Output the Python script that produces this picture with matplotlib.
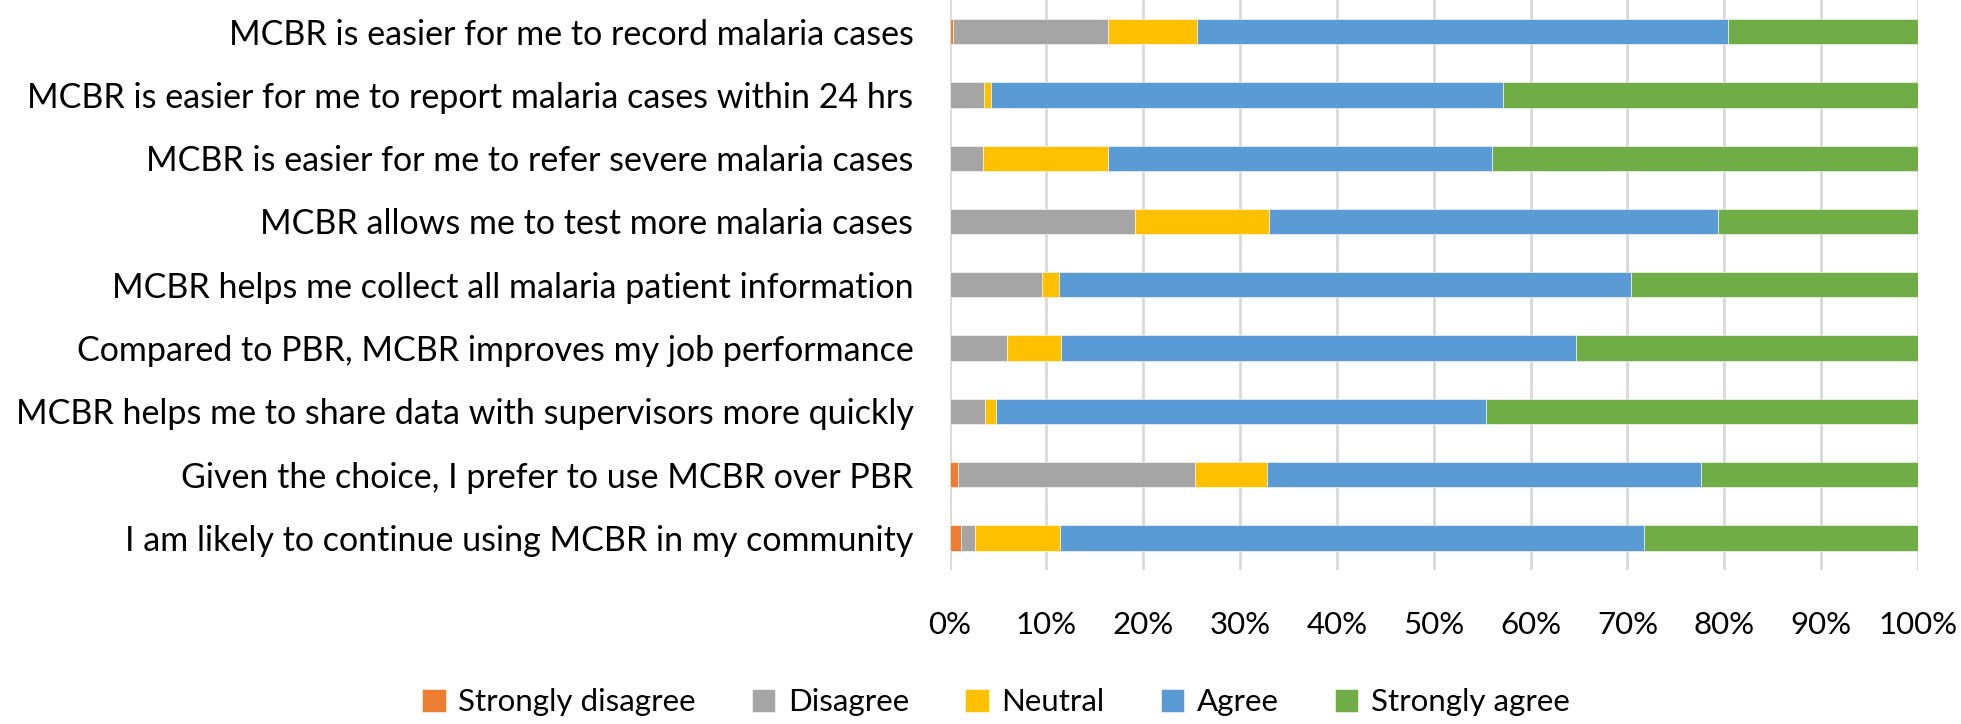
import matplotlib
matplotlib.use('Agg')
import matplotlib.pyplot as plt
import numpy as np

# survey statements, top to bottom
statements = [
    'MCBR is easier for me to record malaria cases',
    'MCBR is easier for me to report malaria cases within 24 hrs',
    'MCBR is easier for me to refer severe malaria cases',
    'MCBR allows me to test more malaria cases',
    'MCBR helps me collect all malaria patient information',
    'Compared to PBR, MCBR improves my job performance',
    'MCBR helps me to share data with supervisors more quickly',
    'Given the choice, I prefer to use MCBR over PBR',
    'I am likely to continue using MCBR in my community',
]

# percentages
strongly_disagree = [0.4, 0.0, 0.0, 0.0, 0.0, 0.0, 0.0, 0.9, 1.2]
disagree = [16.0, 3.6, 3.5, 19.2, 9.5, 5.9, 3.7, 24.4, 1.4]
neutral = [9.2, 0.7, 12.9, 13.8, 1.8, 5.6, 1.1, 7.5, 8.8]
agree = [54.8, 52.9, 39.6, 46.4, 59.1, 53.2, 50.6, 44.8, 60.3]
strongly_agree = [19.6, 42.8, 44.0, 20.6, 29.6, 35.3, 44.6, 22.4, 28.3]

series = [
    ('Strongly disagree', strongly_disagree, '#ED7D31'),
    ('Disagree', disagree, '#A5A5A5'),
    ('Neutral', neutral, '#FFC000'),
    ('Agree', agree, '#5B9BD5'),
    ('Strongly agree', strongly_agree, '#70AD47'),
]

plt.rcParams['font.family'] = ['Lato', 'DejaVu Sans']

W, H = 1961, 724
fig = plt.figure(figsize=(W / 100, H / 100), dpi=100)
ax = fig.add_axes([949.5 / W, 1 - 569.5 / H, (1918 - 949.5) / W, 569.5 / H])

y = np.arange(len(statements))
left = np.zeros(len(statements))
for name, vals, col in series:
    vals = np.array(vals)
    ax.barh(y, vals, left=left, height=0.4, color=col, label=name,
            edgecolor='white', linewidth=0.4, zorder=3)
    left += vals

ax.set_xlim(0, 100)
ax.set_ylim(len(statements) - 0.5, -0.5)
ax.set_yticks(y)
ax.set_yticklabels(statements, fontsize=24.5)
ax.set_xticks(np.arange(0, 101, 10))
ax.set_xticklabels([f'{v}%' for v in range(0, 101, 10)], fontsize=22.5)
ax.tick_params(axis='both', length=0)
ax.tick_params(axis='y', pad=26)
ax.tick_params(axis='x', pad=30)
ax.grid(axis='x', color='#D9D9D9', linewidth=2, zorder=0)
for s in ax.spines.values():
    s.set_visible(False)

fig.legend(loc='center', bbox_to_anchor=(996 / W, 1 - 702 / H), ncol=5,
           frameon=False, fontsize=22.5, handlelength=0.75, handleheight=0.75,
           handletextpad=0.4, columnspacing=1.8)

fig.savefig('out.png', dpi=100)
